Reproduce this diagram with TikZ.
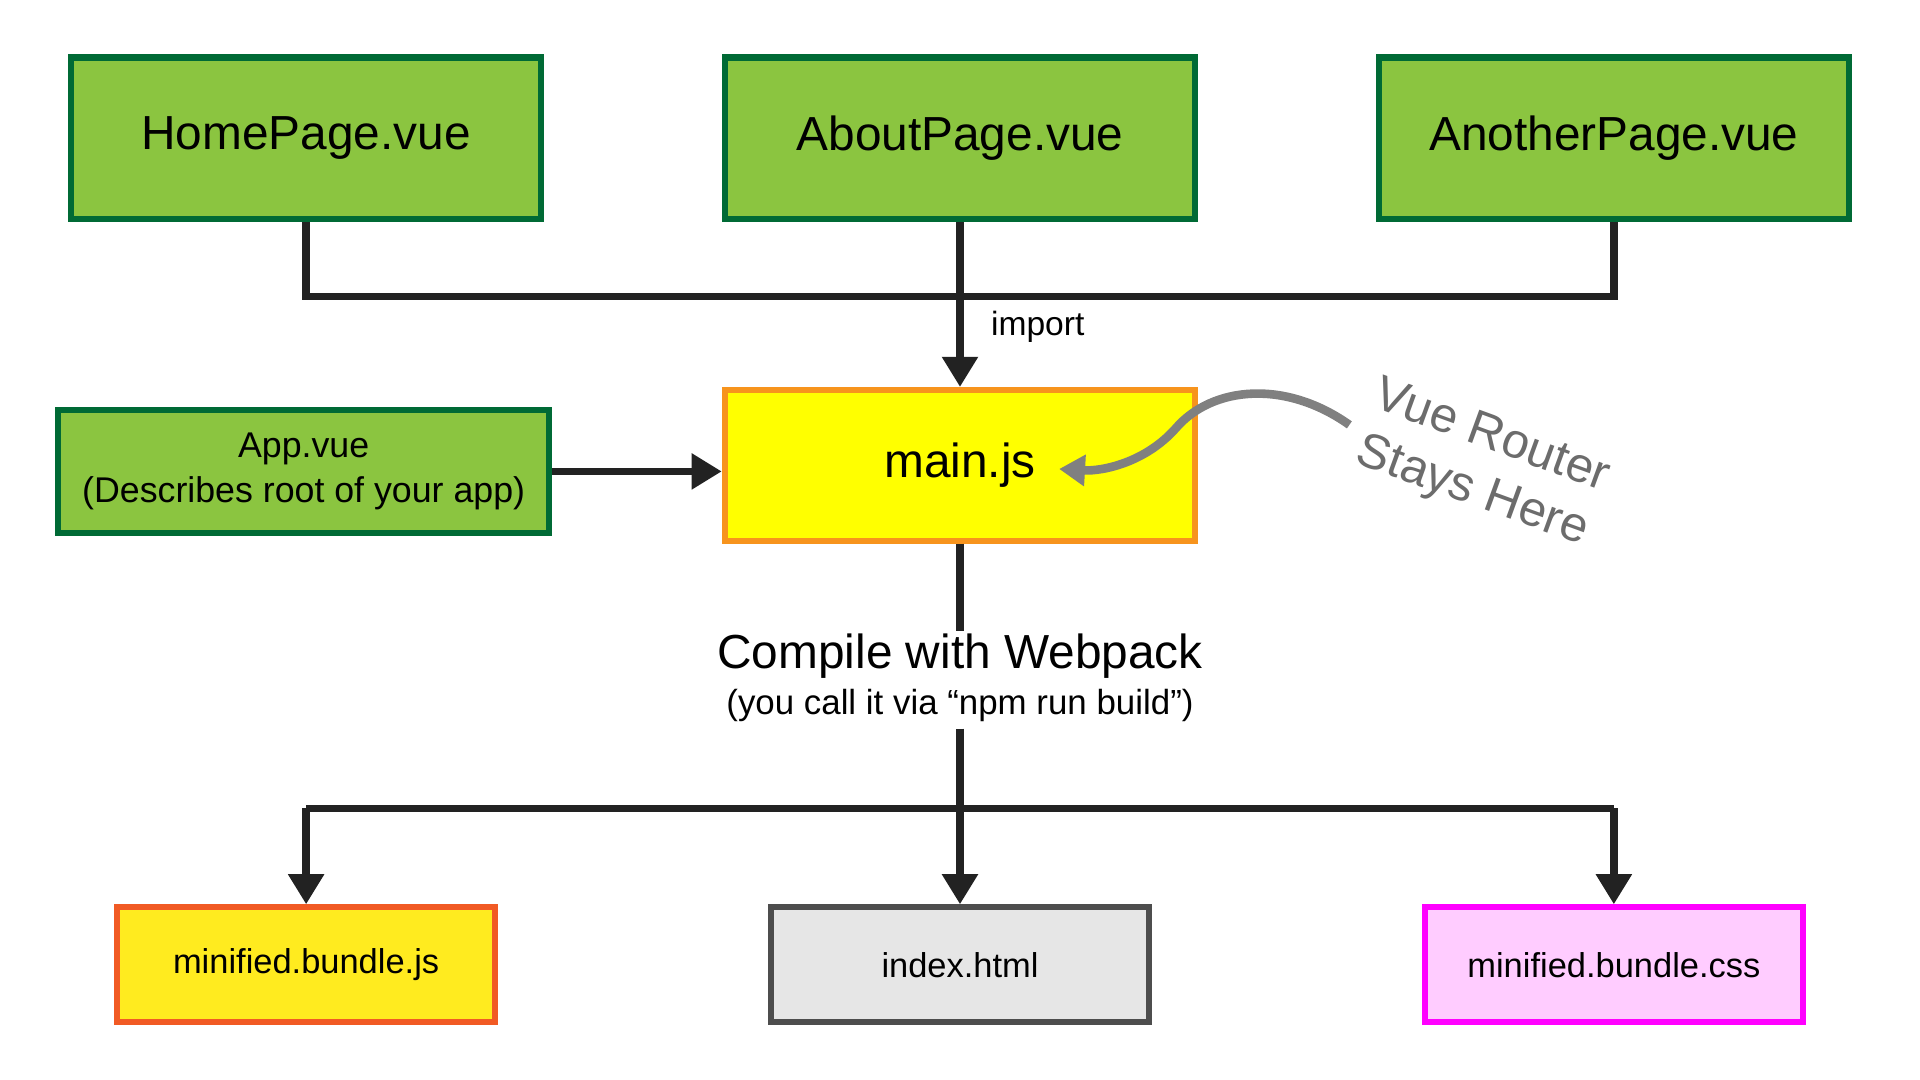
\documentclass[tikz,border=0pt]{standalone}
\usepackage{fontspec}
\setmainfont{Liberation Sans}
\usetikzlibrary{arrows.meta}
\definecolor{gfill}{HTML}{8BC540}
\definecolor{gdraw}{HTML}{006A35}
\definecolor{ofill}{HTML}{FFFF00}
\definecolor{odraw}{HTML}{F7941D}
\definecolor{bfill}{HTML}{FFEB1F}
\definecolor{bdraw}{HTML}{F15A24}
\definecolor{pfill}{HTML}{FFCCFF}
\definecolor{pdraw}{HTML}{FF00FF}
\definecolor{hfill}{HTML}{E6E6E6}
\definecolor{hdraw}{HTML}{4D4D4D}
\definecolor{ln}{HTML}{222222}
\begin{document}
\begin{tikzpicture}[x=0.01cm,y=-0.01cm,
  box/.style={draw,line width=1.4pt,minimum width=3.84cm,minimum height=1.32cm,inner sep=0pt,align=center},
  green/.style={box,fill=gfill,draw=gdraw,font=\fontsize{11.1}{13}\selectfont},
  bot/.style={box,minimum width=3.09cm,minimum height=0.94cm,font=\fontsize{8}{9}\selectfont},
  con/.style={line width=1.7pt,draw=ln},
  arr/.style={con,-{Triangle[length=7pt,width=8pt]}}]
\useasboundingbox (0,0) rectangle (1568,882);
\node[green] (home) at (250,113) {HomePage.vue};
\node[green] (about) at (784,113) {AboutPage.vue};
\node[green] (another) at (1318,113) {AnotherPage.vue};
\node[box,fill=gfill,draw=gdraw,minimum width=4.01cm,minimum height=1.0cm,font=\fontsize{8.3}{10.5}\selectfont] (app) at (248,385) {App.vue\\(Describes root of your app)};
\node[box,fill=ofill,draw=odraw,minimum height=1.23cm,font=\fontsize{11.1}{13}\selectfont] (main) at (784,380) {main.js};
\node[bot,fill=bfill,draw=bdraw] (bjs) at (250,788) {minified.bundle.js};
\node[bot,fill=hfill,draw=hdraw] (idx) at (784,788) {index.html};
\node[bot,fill=pfill,draw=pdraw] (bcss) at (1318,788) {minified.bundle.css};
\coordinate (jl) at (250,242);
\coordinate (jr) at (1318,242);
\draw[con] (home.south) -- (jl) -- (jr) -- (another.south);
\draw[arr] (about.south) -- (main.north);
\node[anchor=west,font=\fontsize{7.8}{9}\selectfont] (imp) at (797,267) {import};
\draw[arr] (app.east |- 0,385) -- (main.west |- 0,385);
\node[font=\fontsize{11.1}{13}\selectfont] (comp) at (784,536) {Compile with Webpack};
\node[font=\fontsize{8.1}{9}\selectfont] (sub) at (784,576) {(you call it via “npm run build”)};
\draw[con] (main.south) -- (784,515);
\coordinate (bl) at (250,660);
\coordinate (br) at (1318,660);
\draw[con] (784,595) -- (784,660);
\draw[con] (bl) -- (br);
\draw[arr] (bl) -- (bjs.north);
\draw[arr] (784,660) -- (idx.north);
\draw[arr] (br) -- (bcss.north);
\node[text=gray!85!black,rotate=-20,align=center,font=\fontsize{11.4}{13.5}\selectfont] (vr) at (1210,380) {Vue Router\\Stays Here};
\draw[line width=2pt,draw=gray,-{Triangle[length=6pt,width=7pt]}] (1102,347) .. controls (1050,310) and (990,315) .. (960,350) .. controls (935,378) and (900,385) .. (865,383);
\end{tikzpicture}
\end{document}
